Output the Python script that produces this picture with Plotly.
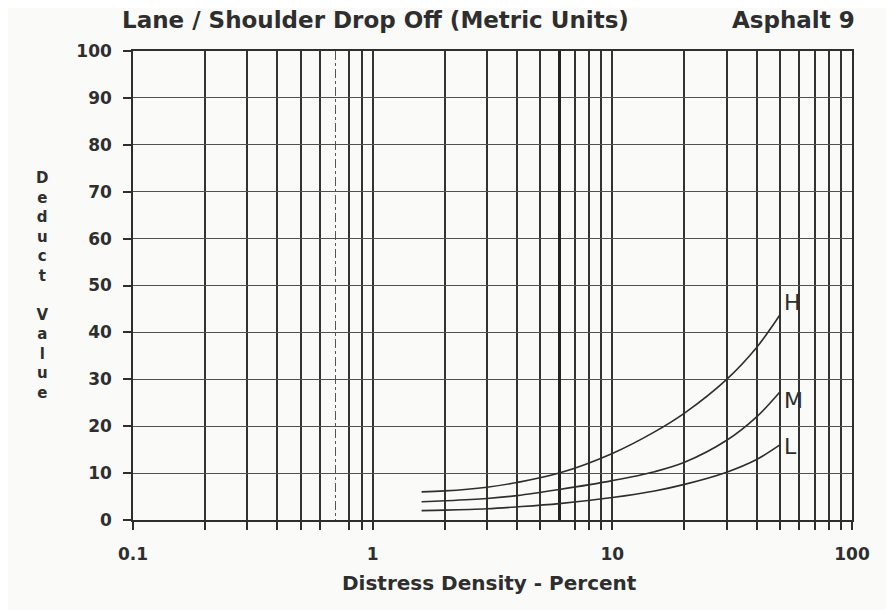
import math
import plotly.graph_objects as go

# ── DATA ─────────────────────────────
density = [1.6, 2, 3, 4, 6, 10, 15, 20, 30, 40, 50]
deduct_h = [6.0, 6.2, 7.0, 8.0, 10.0, 14.2, 18.8, 22.8, 30.0, 36.8, 43.7]
deduct_m = [3.9, 4.1, 4.6, 5.2, 6.5, 8.4, 10.3, 12.3, 17.0, 22.0, 27.3]
deduct_l = [2.0, 2.1, 2.4, 2.8, 3.5, 4.8, 6.2, 7.6, 10.2, 12.9, 16.0]
curve_labels = ["H", "M", "L"]

x_major = [0.1, 1, 10, 100]
x_minor = [0.2, 0.3, 0.4, 0.5, 0.6, 0.8, 0.9,
           2, 3, 4, 5, 7, 8, 9,
           20, 30, 40, 50, 60, 70, 80, 90]
y_ticks = list(range(0, 101, 10))
# ─────────────────────────────────────

INK = "#2e2e2e"
FONT = "DejaVu Sans, Verdana, sans-serif"

fig = go.Figure()

# label offsets (px) so H / M / L sit where the printed letters are
label_shift = {"H": 13, "M": -9, "L": -2}

for ys, lab in zip([deduct_h, deduct_m, deduct_l], curve_labels):
    fig.add_trace(go.Scatter(
        x=density, y=ys, mode="lines",
        line=dict(color=INK, width=1.6, shape="spline", smoothing=1.0),
        showlegend=False, hoverinfo="skip",
    ))
    # annotations on a log axis take log10 positions
    fig.add_annotation(
        x=math.log10(density[-1]), y=ys[-1], xref="x", yref="y",
        text=lab, showarrow=False, xanchor="left", yanchor="middle",
        xshift=2, yshift=label_shift[lab],
        font=dict(family=FONT, size=22, color=INK),
    )

# invisible trace so the overlay axis (dashed 0.7 line, heavy 6 line) is drawn
fig.add_trace(go.Scatter(x=[0.1, 100], y=[0, 0], xaxis="x2", mode="lines",
                         line=dict(width=0), showlegend=False, hoverinfo="skip"))

tick_font = dict(size=17, family=FONT, color=INK, weight="bold")

fig.update_layout(
    width=894, height=610,
    # page body adds 8px offset, margins compensate
    margin=dict(l=125, r=50, t=43, b=98),
    paper_bgcolor="#fafaf9",
    plot_bgcolor="#fafaf9",
    font=dict(family=FONT, color=INK),
    xaxis=dict(
        type="log", range=[-1, 2],
        tickvals=x_major, ticktext=["0.1", "1", "10", "100"],
        ticks="outside", ticklen=8, tickwidth=1.5, tickcolor=INK,
        ticklabelstandoff=10,
        showgrid=True, gridcolor="#333333", gridwidth=1.6,
        minor=dict(tickvals=x_minor, ticks="outside", ticklen=8,
                   tickwidth=1.5, tickcolor=INK, showgrid=True,
                   gridcolor="#333333", gridwidth=1.6),
        tickfont=tick_font,
        showline=True, linecolor=INK, linewidth=1.5, mirror=True,
        zeroline=False,
    ),
    xaxis2=dict(
        type="log", range=[-1, 2], overlaying="x", side="top",
        tickvals=[6], showticklabels=False, ticks="",
        showgrid=True, gridcolor="#222222", gridwidth=3,
        minor=dict(tickvals=[0.7], ticks="", showgrid=True,
                   gridcolor="#555555", gridwidth=1.3, griddash="dashdot"),
        showline=False, zeroline=False,
    ),
    yaxis=dict(
        range=[0, 100],
        tickvals=y_ticks,
        ticks="outside", ticklen=8, tickwidth=1.5, tickcolor=INK,
        ticklabelstandoff=8,
        showgrid=True, gridcolor="#505050", gridwidth=1.3,
        tickfont=tick_font,
        showline=True, linecolor=INK, linewidth=1.5, mirror=True,
        zeroline=False,
    ),
)

# titles
fig.add_annotation(
    text="Lane / Shoulder Drop Off (Metric Units)", xref="paper", yref="paper",
    x=(375 - 133) / 719, y=1.0, yshift=31, showarrow=False,
    xanchor="center", yanchor="middle",
    font=dict(family=FONT, size=23, color=INK, weight="bold"),
)
fig.add_annotation(
    text="Asphalt 9", xref="paper", yref="paper",
    x=(793 - 133) / 719, y=1.0, yshift=31, showarrow=False,
    xanchor="center", yanchor="middle",
    font=dict(family=FONT, size=23, color=INK, weight="bold"),
)
fig.add_annotation(
    text="Distress Density - Percent", xref="paper", yref="paper",
    x=(489 - 133) / 719, y=0.0, yshift=-63, showarrow=False,
    xanchor="center", yanchor="middle",
    font=dict(family=FONT, size=20, color=INK, weight="bold"),
)
fig.add_annotation(
    text="<br>".join(list("Deduct") + [""] + list("Value")),
    xref="paper", yref="paper", x=0.0, xshift=-91, y=0.501,
    showarrow=False, xanchor="center", yanchor="middle",
    font=dict(family=FONT, size=15, color=INK, weight="bold"),
)

fig.write_html("out.html")
